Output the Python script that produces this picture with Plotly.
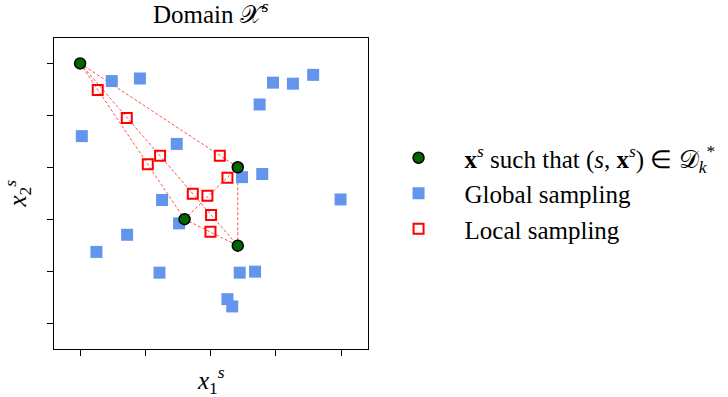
import plotly.graph_objects as go

# Selected points x^s with (s, x^s) in D_k*
green_x = [0.0, 2.415, 1.60, 2.415]
green_y = [5.0, 3.0, 2.0, 1.49]
# pairs of selected points joined by dashed lines
edges = [(0, 1), (0, 2), (0, 3), (2, 1), (2, 3), (1, 3)]

# Global sampling
blue_x = [0.485, 0.916, 2.955, 3.26, 3.57, 2.75, 0.026, 1.48, 2.48, 2.79,
          3.99, 1.256, 1.516, 0.72, 0.25, 1.216, 2.445, 2.68, 2.257, 2.33]
blue_y = [4.66, 4.71, 4.63, 4.61, 4.78, 4.21, 3.60, 3.45, 2.81, 2.87,
          2.38, 2.37, 1.92, 1.70, 1.37, 0.97, 0.97, 0.99, 0.46, 0.32]

# Local sampling
red_x = [0.27, 0.715, 1.225, 1.037, 2.14, 2.257, 1.726, 1.95, 2.006, 1.997]
red_y = [4.49, 3.95, 3.22, 3.06, 3.22, 2.80, 2.49, 2.45, 2.08, 1.76]

x_ticks = [0, 1, 2, 3, 4]
y_ticks = [0, 1, 2, 3, 4, 5]

FONT = "Liberation Serif"

lx, ly = [], []
for a, b in edges:
    lx += [green_x[a], green_x[b], None]
    ly += [green_y[a], green_y[b], None]

fig = go.Figure()
fig.add_trace(go.Scatter(x=lx, y=ly, mode="lines", showlegend=False, hoverinfo="skip",
                         line=dict(color="rgba(255,40,40,0.8)", width=1, dash="3px,2px")))
fig.add_trace(go.Scatter(x=blue_x, y=blue_y, mode="markers", name="Global sampling",
                         legendrank=2,
                         marker=dict(symbol="square", size=12, color="#6495ED",
                                     line=dict(width=0))))
fig.add_trace(go.Scatter(x=red_x, y=red_y, mode="markers", name="Local sampling",
                         legendrank=3,
                         marker=dict(symbol="square-open", size=10, color="red",
                                     line=dict(width=2, color="red"))))
fig.add_trace(go.Scatter(x=green_x, y=green_y, mode="markers",
                         name="<b>x</b><sup><i>s</i></sup> such that (<i>s</i>, <b>x</b><sup><i>s</i></sup>) ∈ 𝒟<sub><i>k</i></sub><sup>*</sup>",
                         legendrank=1,
                         marker=dict(symbol="circle", size=11, color="#006400",
                                     line=dict(width=1.5, color="black"))))

axis_common = dict(showgrid=False, zeroline=False, showticklabels=False,
                   ticks="outside", ticklen=6, tickwidth=1.3, tickcolor="black",
                   showline=True, linecolor="black", linewidth=1.3, mirror=True)

fig.update_xaxes(range=[-0.4, 4.41], tickvals=x_ticks, **axis_common)
fig.update_yaxes(range=[-0.5, 5.49], tickvals=y_ticks, **axis_common)

fig.update_layout(
    width=728, height=397,
    margin=dict(l=54, r=360, t=38, b=48, autoexpand=False),
    plot_bgcolor="white", paper_bgcolor="white",
    font=dict(family=FONT, size=25, color="black"),
    showlegend=True,
    legend=dict(x=1.0145, xanchor="left", y=0.5, yanchor="middle",
                font=dict(family=FONT, size=25, color="black"),
                itemwidth=82, bgcolor="rgba(0,0,0,0)", tracegroupgap=0),
    annotations=[
        dict(text="Domain 𝒳<sup><i>s</i></sup>", xref="paper", yref="paper",
             x=0.5, y=1.0, yshift=8, showarrow=False, yanchor="bottom",
             font=dict(family=FONT, size=25)),
        dict(text="<i>x</i><sub>1</sub><sup><i>s</i></sup>", xref="paper", yref="paper",
             x=0.5, y=0, yshift=-51, showarrow=False,
             font=dict(family=FONT, size=25)),
        dict(text="<i>x</i><sub>2</sub><sup><i>s</i></sup>", xref="paper", yref="paper",
             x=0, y=0.5, xshift=-57, textangle=-90, showarrow=False,
             font=dict(family=FONT, size=25)),
    ],
)

fig.write_html("out.html", config={"displayModeBar": False},
               post_script="document.body.style.margin='0';document.body.style.padding='0';")
